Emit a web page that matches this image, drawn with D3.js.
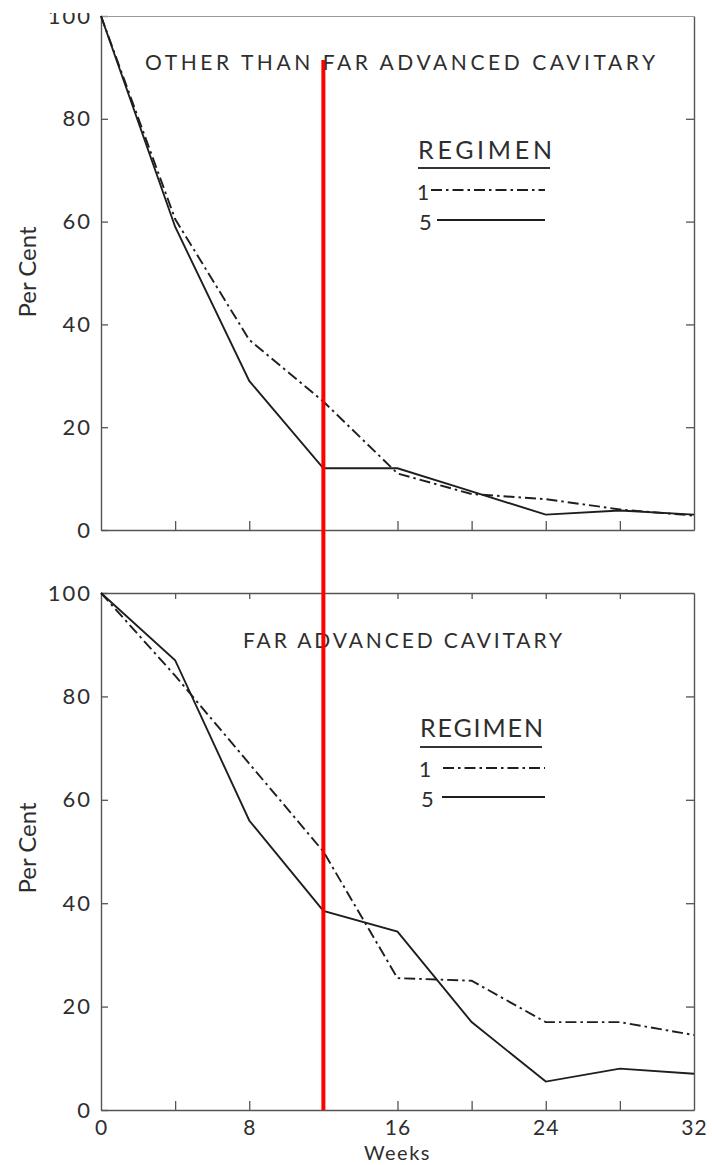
<!DOCTYPE html>
<html><head><meta charset="utf-8">
<script src="https://cdn.jsdelivr.net/npm/d3@7"></script>
<style>
html,body{margin:0;padding:0;background:#fff;}
svg{display:block;}
text{font-family:Lato,"DejaVu Sans",sans-serif;font-weight:400;fill:#2e2e2e;}
</style></head><body>
<svg id="c" width="713" height="1165"></svg>
<script>
// ---- data ----
const weeks = [0, 4, 8, 12, 16, 20, 24, 28, 32];
const topRegimen1 = [100, 60.5, 37, 25, 11, 7, 6, 4, 2.8];
const topRegimen5 = [100, 59, 29, 12, 12, 7.5, 3, 3.8, 3];
const botRegimen1 = [100, 84, 67, 50, 25.5, 25, 17, 17, 14.5];
const botRegimen5 = [100, 87, 56, 38.5, 34.5, 17, 5.5, 8, 7];
const yTickValues = [0, 20, 40, 60, 80, 100];
const innerYTicks = [20, 40, 60, 80];
const minorWeekTicks = [4, 8, 12, 16, 20, 24, 28];
const weekLabels = [0, 8, 16, 24, 32];
const topTitle = "OTHER THAN FAR ADVANCED CAVITARY";
const botTitle = "FAR ADVANCED CAVITARY";
const legendTitle = "REGIMEN";
const regimenNames = ["1", "5"];
const markerWeek = 12;

// ---- drawing ----
const svg = d3.select("#c");
const ink = "#1e1e1e", axisInk = "#555";
const dashDot = "11,4,2.5,4";
const x = d3.scaleLinear().domain([0, 32]).range([101, 694]);

const panels = [
  {y: d3.scaleLinear().domain([0,100]).range([530,16]), r1: topRegimen1, r5: topRegimen5,
   title: topTitle, tx: 145, ty: 70, tl: 510, topTicks: [],
   leg: {x: 418, ty: 159, tl: 134, uy: 168, ux2: 550, y1: 190, t1y: 200, l1x: 431, y5: 220, t5y: 230, l5x: 437, lx2: 545},
   perY: 272},
  {y: d3.scaleLinear().domain([0,100]).range([1110,593]), r1: botRegimen1, r5: botRegimen5,
   title: botTitle, tx: 243, ty: 648, tl: 319, topTicks: minorWeekTicks,
   leg: {x: 420, ty: 737, tl: 123, uy: 747, ux2: 542, y1: 768, t1y: 777, l1x: 443, y5: 797, t5y: 807, l5x: 442, lx2: 545},
   perY: 848}
];

function styleAxis(g) {
  g.select(".domain").attr("stroke", axisInk).attr("stroke-width", 1.4);
  g.selectAll(".tick line").attr("stroke", axisInk).attr("stroke-width", 1.3);
  g.selectAll(".tick text").attr("fill", "#2e2e2e").style("font-size", "22px")
    .style("letter-spacing", "2px")
    .style("font-family", "Lato, 'DejaVu Sans', sans-serif").style("font-weight", 400);
}

panels.forEach((p, i) => {
  const y = p.y;
  const g = svg.append("g");
  g.append("g").attr("transform", `translate(${x(0)},0)`)
    .call(d3.axisLeft(y).tickValues(yTickValues).tickSizeInner(-7).tickSizeOuter(0).tickPadding(9).tickFormat(d => d))
    .call(styleAxis);
  g.append("g").attr("transform", `translate(${x(32)},0)`)
    .call(d3.axisRight(y).tickValues(innerYTicks).tickSizeInner(-8).tickSizeOuter(0).tickFormat(""))
    .call(styleAxis);
  g.append("g").attr("transform", `translate(0,${y(0)})`)
    .call(d3.axisBottom(x).tickValues(minorWeekTicks).tickSizeInner(-9).tickSizeOuter(0).tickFormat(""))
    .call(styleAxis);
  g.append("g").attr("transform", `translate(0,${y(100)})`)
    .call(d3.axisTop(x).tickValues(p.topTicks).tickSizeInner(-6).tickSizeOuter(0).tickFormat(""))
    .call(styleAxis)
    .call(a => a.select(".domain").attr("stroke", i === 0 ? "#999" : axisInk).attr("stroke-width", i === 0 ? 1 : 1.4));

  const line = d3.line().x((d, k) => x(weeks[k])).y(d => y(d));
  g.append("path").datum(p.r1).attr("d", line).attr("fill", "none")
    .attr("stroke", ink).attr("stroke-width", 1.9).attr("stroke-dasharray", dashDot);
  g.append("path").datum(p.r5).attr("d", line).attr("fill", "none")
    .attr("stroke", ink).attr("stroke-width", 1.9);

  g.append("text").attr("x", p.tx).attr("y", p.ty).text(p.title)
    .style("font-size", "21px").attr("textLength", p.tl).attr("lengthAdjust", "spacing");

  const L = p.leg;
  g.append("text").attr("x", L.x).attr("y", L.ty).text(legendTitle)
    .style("font-size", "25px").attr("textLength", L.tl).attr("lengthAdjust", "spacing");
  g.append("line").attr("x1", L.x).attr("x2", L.ux2).attr("y1", L.uy).attr("y2", L.uy)
    .attr("stroke", "#333").attr("stroke-width", 2);
  g.append("text").attr("x", L.x - 1).attr("y", L.t1y).text(regimenNames[0]).style("font-size", "21px");
  g.append("line").attr("x1", L.l1x).attr("x2", L.lx2).attr("y1", L.y1).attr("y2", L.y1)
    .attr("stroke", ink).attr("stroke-width", 2).attr("stroke-dasharray", dashDot);
  g.append("text").attr("x", L.x + 1).attr("y", L.t5y).text(regimenNames[1]).style("font-size", "22px");
  g.append("line").attr("x1", L.l5x).attr("x2", L.lx2).attr("y1", L.y5).attr("y2", L.y5)
    .attr("stroke", ink).attr("stroke-width", 2);

  g.append("text").attr("transform", `translate(36,${p.perY}) rotate(-90)`)
    .attr("text-anchor", "middle").style("font-size", "24px").text("Per Cent");
});

const yb = panels[1].y;
svg.append("g").attr("transform", `translate(0,${yb(0)})`)
  .call(d3.axisBottom(x).tickValues(weekLabels).tickSize(0).tickPadding(10).tickFormat(d => d))
  .call(styleAxis).call(a => a.select(".domain").remove())
  .call(a => a.selectAll(".tick text").style("letter-spacing", "1px").style("font-size", "21px"));
svg.append("text").attr("x", x(16)).attr("y", 1160).attr("text-anchor", "middle")
  .style("font-size", "20px").style("letter-spacing", "1.5px").text("Weeks");

// cropped top edge (reference image is cut off above the "100" label)
svg.append("rect").attr("x", 0).attr("y", 0).attr("width", 100).attr("height", 13).attr("fill", "#fff");

svg.append("line").attr("x1", x(markerWeek)).attr("x2", x(markerWeek))
  .attr("y1", 60).attr("y2", yb(0)).attr("stroke", "#ff0000").attr("stroke-width", 4);
</script>
</body></html>
